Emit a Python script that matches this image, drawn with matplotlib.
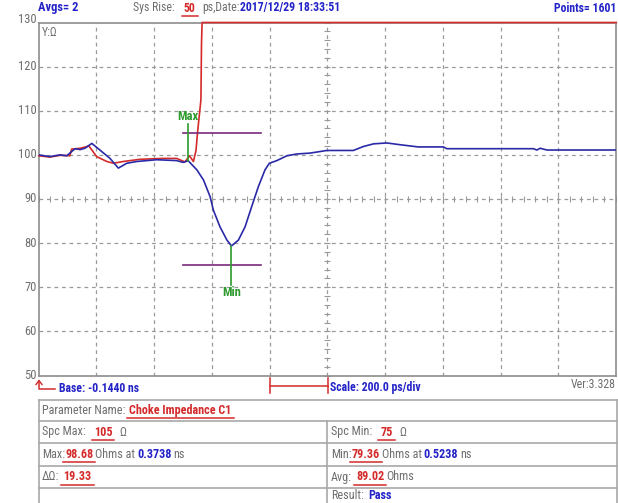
import matplotlib
matplotlib.use("Agg")
import matplotlib.pyplot as plt
import matplotlib.font_manager as fm
import numpy as np
from matplotlib.lines import Line2D

# ---- trace data (time in ns, impedance in ohms) ----
blue_t = [-0.144, -0.105, -0.070, -0.047, -0.018, 0.000, 0.016, 0.040, 0.068, 0.103,
          0.132, 0.161, 0.196, 0.265, 0.334, 0.356, 0.3738, 0.404, 0.427, 0.450,
          0.461, 0.484, 0.508, 0.5238, 0.548, 0.571, 0.594, 0.617, 0.640, 0.655,
          0.681, 0.716, 0.750, 0.796, 0.854, 0.946, 0.981, 1.016, 1.062, 1.108,
          1.171, 1.258, 1.270, 1.570, 1.582, 1.593, 1.617, 1.857]
blue_z = [100.0, 99.6, 100.0, 99.8, 101.4, 101.2, 101.5, 102.6, 101.1, 99.2,
          97.0, 98.1, 98.5, 98.9, 98.7, 98.3, 98.68, 96.6, 94.3, 90.5,
          87.5, 83.7, 80.7, 79.36, 80.7, 83.7, 88.3, 92.8, 96.6, 98.1,
          98.7, 99.8, 100.2, 100.4, 101.0, 101.0, 101.9, 102.5, 102.7, 102.3,
          101.8, 101.8, 101.4, 101.4, 101.1, 101.5, 101.1, 101.1]

red_t = [-0.144, -0.105, -0.070, -0.036, -0.030, 0.000, 0.030, 0.057, 0.092, 0.115,
         0.149, 0.207, 0.288, 0.334, 0.363, 0.378, 0.392, 0.401, 0.406, 0.412,
         0.418, 0.420, 0.422, 1.857]
red_z = [99.8, 99.5, 99.9, 99.8, 101.3, 101.5, 102.0, 99.6, 98.5, 98.1,
         98.5, 99.0, 99.2, 99.2, 98.4, 99.8, 98.5, 101.0, 104.9, 108.7,
         112.5, 125.0, 130.0, 130.0]

spec_max = 105
spec_min = 75
max_val, max_t = 98.68, 0.3738
min_val, min_t = 79.36, 0.5238
delta_val = 19.33
avg_val = 89.02
spec_window = [0.357, 0.627]

base_ns = -0.1440
scale_ns = 0.200
n_div = 10
y_ticks = [50, 60, 70, 80, 90, 100, 110, 120, 130]

W, H = 618, 503


def pick_narrow_font():
    """Return (family, stretch, size factor) for the narrowest sans face available."""
    prefer = ["Liberation Sans Narrow", "Arial Narrow", "Roboto Condensed",
              "Open Sans Condensed", "Noto Sans", "DejaVu Sans", "Roboto"]
    found = {}
    for f in fm.fontManager.ttflist:
        narrow = (f.stretch not in ("normal", 500, "medium")
                  or "Narrow" in f.name or "Condensed" in f.name)
        if narrow and "Mono" not in f.name and "Serif" not in f.name:
            found.setdefault(f.name, f.stretch)
    for name in prefer:
        if name in found:
            return name, found[name], 1.0
    for name, st in found.items():
        return name, st, 1.0
    return "Liberation Sans", "normal", 0.86


FONT_NAME, FONT_STRETCH, SZ = pick_narrow_font()
FONT = [FONT_NAME, "DejaVu Sans"]

GRAY = "#6e6e6e"
BLUE_TXT = "#2323c8"
RED = "#d42a2a"
TRACE_BLUE = "#2a2aa8"
GREEN = "#2e9a2e"
PURPLE = "#7b2a7b"
GRID = "#9a9a9a"

fig = plt.figure(figsize=(W / 100, H / 100), dpi=100)
fig.patch.set_facecolor("white")


def ftext(x, y, s, size=8.5, **kw):
    return fig.text(x / W, 1 - y / H, s, fontsize=size * SZ, family=FONT,
                    fontstretch=FONT_STRETCH, **kw)


x0, x1, ytop, ybot = 38.7, 616.0, 22.5, 375.5
ax = fig.add_axes([x0 / W, 1 - ybot / H, (x1 - x0) / W, (ybot - ytop) / H])
ax.set_xlim(base_ns, base_ns + n_div * scale_ns)
ax.set_ylim(50, 130)
ax.set_xticks([])
ax.set_yticks([])
for s in ax.spines.values():
    s.set_color("#8c8c8c")
    s.set_linewidth(1.2)

# dashed graticule
for k in range(1, n_div):
    ax.axvline(base_ns + k * scale_ns, color=GRID, lw=0.9, ls=(0, (3, 3)), zorder=1)
for v in y_ticks[1:-1]:
    ax.axhline(v, color=GRID, lw=0.9, ls=(0, (3, 3)), zorder=1)

# small tick marks on the centre lines
cx = base_ns + 5 * scale_ns
xt = np.arange(base_ns, base_ns + n_div * scale_ns + 1e-9, scale_ns / 5)
ax.plot(xt, np.full_like(xt, 90.0), ls="none", marker="|", ms=5, mew=0.8, color=GRID, zorder=1)
yt = np.arange(50, 130.1, 2)
ax.plot(np.full_like(yt, cx), yt, ls="none", marker="_", ms=5, mew=0.8, color=GRID, zorder=1)

# traces
ax.plot(red_t, red_z, color=RED, lw=1.2, zorder=3, clip_on=False)
ax.plot(blue_t, blue_z, color=TRACE_BLUE, lw=1.2, zorder=4)

# spec limits and markers
ax.plot(spec_window, [spec_max, spec_max], color=PURPLE, lw=1.2, zorder=5)
ax.plot(spec_window, [spec_min, spec_min], color=PURPLE, lw=1.2, zorder=5)
ax.plot([max_t, max_t], [max_val, 106.9], color=GREEN, lw=1.2, zorder=5)
ax.plot([min_t, min_t], [min_val, 70.6], color=GREEN, lw=1.2, zorder=5)
ax.text(max_t, 107.3, "Max", color=GREEN, fontsize=9 * SZ, fontweight="bold",
        ha="center", va="bottom", family=FONT, fontstretch=FONT_STRETCH, zorder=6)
ax.text(min_t, 70.3, "Min", color=GREEN, fontsize=9 * SZ, fontweight="bold",
        ha="center", va="top", family=FONT, fontstretch=FONT_STRETCH, zorder=6)

# y labels on the left
for v in y_ticks:
    ypx = ytop + (130 - v) / 80 * (ybot - ytop)
    if v == 130:
        ypx -= 3
    ftext(37, ypx, str(v), color=GRAY, size=9, ha="right", va="center")
ftext(42, 32, "Y:\u03a9", color=GRAY, size=8.5, ha="left", va="center")

renderer = fig.canvas.get_renderer()


def rich(x, y, parts, size=8.5):
    """Draw a row of coloured text pieces starting at pixel (x, y) from top-left."""
    cur = x
    for text, color, bold, under, gap in parts:
        cur += gap
        t = ftext(cur, y, text, size=size, color=color,
                  fontweight="bold" if bold else "normal", ha="left", va="center")
        bb = t.get_window_extent(renderer)
        if under:
            fig.add_artist(Line2D([(bb.x0 - 2) / W, (bb.x1 + 2) / W],
                                  [(bb.y0 - 1) / H, (bb.y0 - 1) / H],
                                  color=color, lw=1.1))
        cur = bb.x1
    return cur


# header line
rich(38, 8, [("Avgs= 2", BLUE_TXT, True, False, 0)], size=9)
rich(133, 8, [("Sys Rise:", GRAY, False, False, 0),
              ("50", RED, True, True, 9),
              ("ps,Date:", GRAY, False, False, 7),
              ("2017/12/29 18:33:51", BLUE_TXT, True, False, 0)], size=8.5)
ftext(616, 8, "Points= 1601", size=8.5, color=BLUE_TXT, fontweight="bold",
      ha="right", va="center")

# base marker and scale bar under the plot
fig.add_artist(Line2D([39 / W, 39 / W, 55 / W],
                      [1 - 381 / H, 1 - 389 / H, 1 - 389 / H], color=RED, lw=1.1))
fig.add_artist(Line2D([36 / W, 39 / W, 42 / W],
                      [1 - 384.5 / H, 1 - 380.5 / H, 1 - 384.5 / H], color=RED, lw=1.0))
rich(59, 389, [("Base: -0.1440 ns", BLUE_TXT, True, False, 0)], size=8.5)

fig.add_artist(Line2D([269.5 / W, 328 / W], [1 - 385.5 / H, 1 - 385.5 / H], color=RED, lw=1.1))
for xp in (269.5, 328):
    fig.add_artist(Line2D([xp / W, xp / W], [1 - 378 / H, 1 - 393 / H], color=RED, lw=1.1))
rich(330, 388, [("Scale: 200.0 ps/div", BLUE_TXT, True, False, 0)], size=8.5)
ftext(616, 384, "Ver:3.328", size=8.5, color=GRAY, ha="right", va="center")

# parameter table
BORDER = "#a8a8a8"
tl, tr, tm = 38.5, 616.5, 327.5
rows = [400, 421, 443, 466, 488, 510]
for r in rows:
    fig.add_artist(Line2D([tl / W, tr / W], [1 - r / H, 1 - r / H], color=BORDER, lw=1.2))
for xp in (tl, tr):
    fig.add_artist(Line2D([xp / W, xp / W], [1 - rows[0] / H, 1 - rows[-1] / H], color=BORDER, lw=1.2))
fig.add_artist(Line2D([tm / W, tm / W], [1 - rows[1] / H, 1 - rows[-1] / H], color=BORDER, lw=1.2))

ts = 8.7
rich(42, 410.5, [("Parameter Name:", GRAY, False, False, 0),
                 ("Choke Impedance C1", RED, True, True, 4)], size=ts)
rich(42, 432, [("Spc Max:", GRAY, False, False, 0),
               (str(spec_max), RED, True, True, 8),
               ("\u03a9", GRAY, False, False, 7)], size=ts)
rich(331, 432, [("Spc Min:", GRAY, False, False, 0),
                (str(spec_min), RED, True, True, 8),
                ("\u03a9", GRAY, False, False, 7)], size=ts)
rich(42, 454.5, [("Max:", GRAY, False, False, 0),
                 (f"{max_val:.2f}", RED, True, True, 0),
                 ("Ohms at", GRAY, False, False, 2),
                 (f"{max_t:.4f}", BLUE_TXT, True, False, 2),
                 ("ns", GRAY, False, False, 2)], size=ts)
rich(331, 454.5, [("Min:", GRAY, False, False, 0),
                  (f"{min_val:.2f}", RED, True, True, 0),
                  ("Ohms at", GRAY, False, False, 2),
                  (f"{min_t:.4f}", BLUE_TXT, True, False, 2),
                  ("ns", GRAY, False, False, 2)], size=ts)
rich(42, 477, [("\u0394\u03a9:", GRAY, False, False, 0),
               (f"{delta_val:.2f}", RED, True, True, 4)], size=ts)
rich(331, 477, [("Avg:", GRAY, False, False, 0),
                (f"{avg_val:.2f}", RED, True, True, 4),
                ("Ohms", GRAY, False, False, 2)], size=ts)
rich(331, 495.5, [("Result:", GRAY, False, False, 0),
                  ("Pass", BLUE_TXT, True, False, 4)], size=ts)

fig.savefig("out.png", dpi=100)
